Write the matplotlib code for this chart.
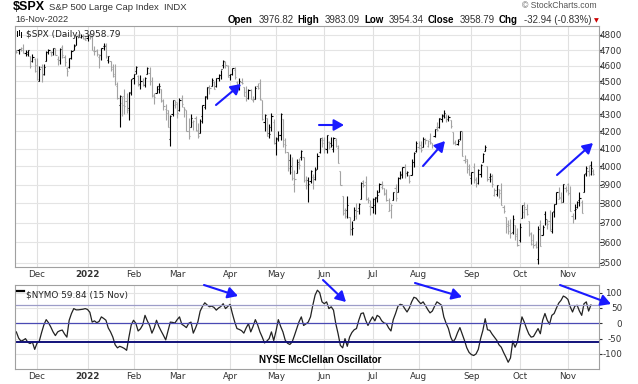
import matplotlib
matplotlib.use("Agg")
import matplotlib.pyplot as plt
import numpy as np
import pandas as pd
from matplotlib.lines import Line2D
from matplotlib.patches import FancyArrowPatch

plt.rcParams['font.family'] = ['DejaVu Sans']

W, H = 638, 384

# trading days 17-Nov-2021 .. 16-Nov-2022
holidays = ['2021-11-25', '2021-12-24', '2022-01-17', '2022-02-21', '2022-04-15',
            '2022-05-30', '2022-06-20', '2022-07-04', '2022-09-05']
dates = pd.bdate_range('2021-11-17', '2022-11-16')
dates = dates[~dates.isin(pd.to_datetime(holidays))]

opens = [
    4701, 4700, 4708, 4712, 4679, 4675, 4664, 4628, 4640,
    4602, 4505, 4589, 4548, 4632, 4691, 4691, 4687, 4711, 4643, 4637, 4719, 4653, 4587, 4594, 4650, 4703, 4733, 4795, 4788, 4795, 4775,
    4779, 4804, 4787, 4693, 4698, 4656, 4670, 4728, 4733, 4637, 4632, 4589, 4548, 4471, 4357, 4366, 4409, 4380, 4337, 4431,
    4519, 4566, 4535, 4483, 4505, 4480, 4548, 4553, 4506, 4413, 4429, 4455, 4456, 4385, 4332, 4324, 4155, 4299, 4354,
    4364, 4323, 4401, 4342, 4327, 4203, 4224, 4253, 4279, 4202, 4189, 4289, 4345, 4407, 4462, 4469, 4494, 4470, 4522, 4541, 4603, 4624, 4599,
    4540, 4547, 4573, 4495, 4474, 4494, 4463, 4437, 4398, 4449, 4386, 4390, 4473, 4490, 4385, 4256, 4279, 4187, 4223, 4254,
    4130, 4159, 4181, 4270, 4129, 4081, 4035, 3971, 3904, 3964, 4013, 4053, 4052, 3900, 3928, 3919, 3942, 3929, 3985, 4078, 4151,
    4150, 4096, 4137, 4134, 4097, 4147, 4101, 3974, 3838, 3763, 3765, 3729, 3665, 3716, 3733, 3774, 3821, 3920, 3913, 3825, 3785,
    3782, 3792, 3831, 3858, 3888, 3880, 3851, 3762, 3763, 3818, 3884, 3861, 3935, 3955, 3998, 3965, 3954, 3951, 4027, 4087,
    4112, 4105, 4108, 4155, 4116, 4156, 4134, 4171, 4227, 4225, 4269, 4290, 4281, 4274, 4267, 4195, 4134, 4126, 4153, 4199, 4034, 4041, 4000,
    3937, 3995, 3930, 3910, 3959, 4022, 4084, 4000, 3940, 3932, 3846, 3849, 3876, 3871, 3782, 3727, 3682, 3686, 3651, 3687, 3633,
    3610, 3726, 3753, 3771, 3706, 3647, 3594, 3590, 3520, 3690, 3638, 3746, 3697, 3707, 3657, 3762, 3799, 3825, 3834, 3808, 3881,
    3901, 3853, 3734, 3767, 3781, 3817, 3810, 3860, 3964, 3977, 4006, 3976.82]
highs = [
    4701, 4708, 4718, 4743, 4701, 4702, 4665, 4673, 4646,
    4652, 4595, 4608, 4613, 4694, 4705, 4695, 4713, 4711, 4660, 4712, 4732, 4667, 4594, 4651, 4698, 4741, 4791, 4808, 4804, 4808, 4787,
    4797, 4819, 4797, 4725, 4708, 4673, 4714, 4749, 4744, 4665, 4632, 4612, 4611, 4495, 4418, 4411, 4453, 4428, 4432, 4516,
    4550, 4595, 4543, 4540, 4522, 4531, 4590, 4589, 4527, 4426, 4472, 4490, 4456, 4395, 4362, 4324, 4294, 4386, 4385,
    4375, 4401, 4416, 4342, 4327, 4276, 4299, 4268, 4292, 4247, 4272, 4358, 4412, 4466, 4481, 4522, 4501, 4520, 4546, 4575, 4637, 4627, 4604,
    4548, 4583, 4593, 4504, 4522, 4521, 4463, 4471, 4453, 4453, 4410, 4471, 4489, 4513, 4385, 4300, 4279, 4240, 4309, 4270,
    4169, 4200, 4308, 4270, 4158, 4081, 4069, 4050, 3981, 4039, 4047, 4090, 4052, 3945, 3944, 3982, 3956, 3999, 4076, 4158, 4169,
    4166, 4177, 4143, 4168, 4164, 4160, 4120, 3974, 3839, 3778, 3838, 3729, 3707, 3779, 3801, 3802, 3913, 3928, 3946, 3836, 3819,
    3826, 3832, 3870, 3910, 3919, 3880, 3874, 3829, 3796, 3863, 3903, 3939, 3975, 3999, 4013, 3975, 3954, 4040, 4079, 4141,
    4145, 4141, 4167, 4162, 4151, 4187, 4134, 4211, 4257, 4280, 4301, 4325, 4302, 4293, 4267, 4195, 4149, 4157, 4200, 4204, 4062, 4044, 4016,
    3970, 4019, 3942, 3987, 4011, 4076, 4119, 4000, 3961, 3960, 3880, 3900, 3877, 3907, 3790, 3727, 3715, 3717, 3737, 3687, 3672,
    3698, 3791, 3807, 3797, 3708, 3653, 3641, 3608, 3685, 3713, 3689, 3762, 3718, 3764, 3757, 3799, 3863, 3887, 3859, 3905, 3893,
    3911, 3894, 3751, 3796, 3814, 3859, 3818, 3958, 4002, 4008, 4028, 3983.09]
lows = [
    4684, 4672, 4692, 4682, 4662, 4660, 4585, 4625, 4560,
    4510, 4504, 4496, 4541, 4632, 4675, 4665, 4670, 4666, 4606, 4612, 4651, 4598, 4532, 4584, 4645, 4703, 4733, 4781, 4778, 4775, 4766,
    4758, 4775, 4699, 4671, 4663, 4582, 4638, 4701, 4650, 4614, 4568, 4531, 4476, 4395, 4222, 4287, 4304, 4309, 4265, 4415,
    4483, 4545, 4471, 4451, 4471, 4466, 4548, 4477, 4402, 4364, 4429, 4429, 4373, 4327, 4268, 4222, 4114, 4288, 4336,
    4279, 4322, 4346, 4285, 4199, 4157, 4224, 4210, 4203, 4162, 4187, 4251, 4329, 4390, 4424, 4469, 4455, 4465, 4501, 4517, 4582, 4588, 4530,
    4507, 4539, 4515, 4452, 4450, 4485, 4408, 4382, 4393, 4392, 4371, 4390, 4452, 4385, 4268, 4201, 4175, 4163, 4200, 4129,
    4062, 4145, 4152, 4107, 4077, 3975, 3957, 3928, 3858, 3964, 3983, 4033, 3913, 3876, 3810, 3908, 3876, 3926, 3985, 4077, 4110,
    4074, 4074, 4098, 4109, 4080, 4107, 4017, 3900, 3740, 3725, 3723, 3639, 3636, 3716, 3717, 3743, 3821, 3889, 3820, 3800, 3739,
    3752, 3742, 3810, 3858, 3875, 3847, 3812, 3758, 3722, 3818, 3814, 3860, 3929, 3935, 3938, 3946, 3911, 3951, 3994, 4080,
    4097, 4079, 4108, 4128, 4108, 4127, 4102, 4166, 4201, 4219, 4256, 4277, 4253, 4263, 4219, 4129, 4123, 4120, 4147, 4057, 4018, 3965, 3954,
    3904, 3907, 3887, 3906, 3944, 4022, 4084, 3922, 3912, 3889, 3838, 3838, 3827, 3789, 3750, 3648, 3644, 3624, 3641, 3610, 3584,
    3604, 3726, 3722, 3740, 3633, 3588, 3571, 3573, 3492, 3581, 3638, 3686, 3668, 3657, 3647, 3728, 3799, 3825, 3803, 3808, 3863,
    3843, 3758, 3699, 3721, 3776, 3786, 3749, 3860, 3945, 3947, 3954, 3954.34]
closes = [
    4688.67, 4704.54, 4697.96, 4682.94, 4690.70, 4701.46, 4594.62, 4655.27, 4567.00,
    4513.04, 4577.10, 4538.43, 4591.67, 4686.75, 4701.21, 4667.45, 4712.02, 4668.97, 4634.09, 4709.85, 4668.67, 4620.64, 4568.02, 4649.23, 4696.56, 4725.79, 4791.19, 4786.35, 4793.06, 4778.73, 4766.18,
    4796.56, 4793.54, 4700.58, 4696.05, 4677.03, 4670.29, 4713.07, 4726.35, 4659.03, 4662.85, 4577.11, 4532.76, 4482.73, 4397.94, 4410.13, 4356.45, 4349.93, 4326.51, 4431.85, 4515.55,
    4546.54, 4589.38, 4477.44, 4500.53, 4483.87, 4521.54, 4587.18, 4504.08, 4418.64, 4401.67, 4471.07, 4475.01, 4380.26, 4348.87, 4304.76, 4225.50, 4288.70, 4384.65, 4373.94,
    4306.26, 4386.54, 4363.49, 4328.87, 4201.09, 4170.70, 4277.88, 4259.52, 4204.31, 4173.11, 4262.45, 4357.86, 4411.67, 4463.12, 4461.18, 4511.61, 4456.24, 4520.16, 4543.06, 4575.52, 4631.60, 4602.45, 4530.41,
    4545.86, 4582.64, 4525.12, 4481.15, 4500.21, 4488.28, 4412.53, 4397.45, 4446.59, 4392.59, 4391.69, 4462.21, 4459.45, 4393.66, 4271.78, 4296.12, 4175.20, 4183.96, 4287.50, 4131.93,
    4155.38, 4175.48, 4300.17, 4146.87, 4123.34, 3991.24, 4001.05, 3935.18, 3930.08, 4023.89, 4008.01, 4088.85, 3923.68, 3900.79, 3901.36, 3973.75, 3941.48, 3978.73, 4057.84, 4158.24, 4132.15,
    4101.23, 4176.82, 4108.54, 4121.43, 4160.68, 4115.77, 4017.82, 3900.86, 3749.63, 3735.48, 3789.99, 3666.77, 3674.84, 3764.79, 3759.89, 3795.73, 3911.74, 3900.11, 3821.55, 3818.83, 3785.38,
    3825.33, 3831.39, 3845.08, 3902.62, 3899.38, 3854.43, 3818.80, 3801.78, 3790.38, 3863.16, 3830.85, 3936.69, 3959.90, 3998.95, 3961.63, 3966.84, 3921.05, 4023.61, 4072.43, 4130.29,
    4118.63, 4091.19, 4155.17, 4151.94, 4145.19, 4140.06, 4122.47, 4210.24, 4207.27, 4280.15, 4297.14, 4305.20, 4274.04, 4283.74, 4228.48, 4137.99, 4128.73, 4140.77, 4199.12, 4057.66, 4030.61, 3986.16, 3955.00,
    3966.85, 3924.26, 3908.19, 3979.87, 4006.18, 4067.36, 4110.41, 3932.69, 3946.01, 3901.35, 3873.33, 3899.89, 3855.93, 3789.93, 3757.99, 3693.23, 3655.04, 3647.29, 3719.04, 3640.47, 3585.62,
    3678.43, 3790.93, 3783.28, 3744.52, 3639.66, 3612.39, 3588.84, 3577.03, 3669.91, 3583.07, 3677.95, 3719.98, 3695.16, 3665.78, 3752.75, 3797.34, 3859.11, 3830.60, 3807.30, 3901.06, 3871.98,
    3856.10, 3759.69, 3719.89, 3770.55, 3806.80, 3828.11, 3748.57, 3956.37, 3992.93, 3957.25, 3991.73, 3958.79]

# NYSE McClellan Oscillator, 17-Nov-2021 .. 15-Nov-2022
nymo = [
    -28, -48, -58, -55, -50, -62, -66, -61, -85, -65,
    -58, -30, -5, 12, 2, -12, -28, -40, -28, -24,
    -22, -35, -45, 10, 32, 48, 44, 44, 45, 46,
    48, 45, 36, 4, 8, 2, 6, 21, 16, 10,
    -15, -28, -45, -70, -80, -75, -78, -82, -88, -45,
    -5, 10, 0, -25, -18, -5, 26, 8, -7, -32,
    -15, 10, -10, -25, -39, -54, -25, 4, 3, 1,
    12, 21, -3, -8, -14, 0, 4, -32, -15, 5,
    40, 55, 67, 60, 54, 56, 52, 43, 50, 55,
    64, 48, 55, 62, 32, 5, -17, -20, -24, -32,
    -15, -1, -28, -10, 12, -5, -28, -45, -64, -58,
    -50, -28, -56, -25, 12, -10, -28, -55, -65, -69,
    -61, -40, -17, 5, 21, -7, -2, 4, 21, 59,
    92, 108, 100, 70, 64, 70, 48, 54, 43, -1,
    -34, -72, -80, -50, -75, -45, -30, -21, -17, 10,
    32, 34, 10, -7, 8, 21, 8, 26, 21, 8,
    1, -1, -15, -25, 12, 32, 55, 62, 60, 48,
    37, 50, 70, 85, 82, 72, 64, 70, 58, 45,
    34, 40, 56, 70, 65, 59, 21, 0, -17, -45,
    -61, -50, -30, -14, -35, -56, -80, -95, -102, -105,
    -100, -85, -50, -23, 15, -21, -23, -35, -45, -55,
    -70, -78, -95, -110, -127, -113, -58, -78, -61, -20,
    21, 4, -17, -35, -45, -43, -30, -17, -34, 10,
    32, 10, -3, 26, 32, 50, 66, 75, 89, 85,
    78, 54, 37, 56, 59, 40, 26, 64, 70, 40,
    59.84]

main_ticks = [3500, 3600, 3700, 3800, 3900, 4000, 4100, 4200, 4300, 4400, 4500, 4600, 4700, 4800]
nymo_ticks = [100, 50, 0, -50, -100]
month_names = ['Dec', '2022', 'Feb', 'Mar', 'Apr', 'May', 'Jun', 'Jul', 'Aug', 'Sep', 'Oct', 'Nov']

o = np.array(opens, float)
h = np.array(highs, float)
l = np.array(lows, float)
c = np.array(closes, float)
x = np.arange(len(c))
prev = np.r_[o[0], c[:-1]]
cols = np.where(c >= prev, 'black', '#a3a3a3')

per = pd.Series(dates.to_period('M'))
first_idx = per.index[per != per.shift()].tolist()[1:]

fig = plt.figure(figsize=(W / 100, H / 100), dpi=100)
fig.patch.set_facecolor('white')


def box(x0, y0, x1, y1):
    return [x0 / W, 1 - y1 / H, (x1 - x0) / W, (y1 - y0) / H]


ax = fig.add_axes(box(15, 26, 598.5, 266.7))
ax2 = fig.add_axes(box(15, 285, 598.5, 369))

xl = (-0.57, 253.3)

# price panel
ax.set_yscale('log')
ax.vlines(x, l, h, colors=cols, lw=0.8)
ax.hlines(o, x - 0.5, x, colors=cols, lw=0.8)
ax.hlines(c, x, x + 0.5, colors=cols, lw=0.8)
ax.set_xlim(*xl)
ax.set_ylim(3480.6, 4860)
ax.yaxis.tick_right()
ax.set_yticks(main_ticks)
ax.set_yticklabels([str(t) for t in main_ticks])
ax.yaxis.set_minor_locator(plt.NullLocator())
ax.grid(axis='y', color='#e4e4e4', lw=0.8)

# NYMO panel
ax2.plot(np.arange(len(nymo)), nymo, color='#222222', lw=0.9)
ax2.axhline(60, color='#9c9cc8', lw=0.9)
ax2.axhline(0, color='#4a4ab4', lw=0.9)
ax2.axhline(-60, color='#12127a', lw=1.4)
ax2.set_xlim(*xl)
ax2.set_ylim(-149, 125)
ax2.yaxis.tick_right()
ax2.set_yticks(nymo_ticks)
ax2.set_yticklabels([str(t) for t in nymo_ticks])
ax2.grid(axis='y', color='#e4e4e4', lw=0.8)

for a in (ax, ax2):
    a.set_axisbelow(True)
    a.set_xticks(first_idx)
    a.set_xticklabels(month_names)
    a.grid(axis='x', color='#e0e0e0', lw=0.8)
    a.tick_params(axis='x', length=0, pad=2.5, labelsize=6.3, colors='#333333')
    a.tick_params(axis='y', length=2, pad=15, labelsize=6.3, colors='#333333')
    for lab in a.get_yticklabels():
        lab.set_horizontalalignment('right')
    for lab in a.get_xticklabels():
        if lab.get_text() == '2022':
            lab.set_fontweight('bold')
    for s in a.spines.values():
        s.set_color('#a0a0a0')
        s.set_linewidth(0.8)


def fx(px):
    return px / W


def fy(py):
    return 1 - py / H


# header
fig.text(fx(13), fy(7), '$SPX', fontsize=9, fontweight='bold', family='Liberation Sans', va='center')
fig.text(fx(49), fy(7.5), 'S&P 500 Large Cap Index  INDX', fontsize=6.8, family='Liberation Sans',
         va='center', color='#333333')
fig.text(fx(15), fy(20), '16-Nov-2022', fontsize=6.6, family='Liberation Sans', va='center', color='#333333')
fig.text(fx(597), fy(6), '\u00a9 StockCharts.com', fontsize=6.2, family='Liberation Sans', va='center',
         ha='right', color='#555555')

pieces = [('Open', 'bold'), ('3976.82', 'normal'), ('High', 'bold'), ('3983.09', 'normal'),
          ('Low', 'bold'), ('3954.34', 'normal'), ('Close', 'bold'), ('3958.79', 'normal'),
          ('Chg', 'bold'), ('-32.94 (-0.83%)', 'normal')]
r = fig.canvas.get_renderer()
xr = 591
for txt, wt in reversed(pieces):
    t = fig.text(fx(xr), fy(20), txt, fontsize=7, fontweight=wt, family='Liberation Sans',
                 va='center', ha='right', color='black' if wt == 'bold' else '#333333')
    wdt = t.get_window_extent(r).width
    xr -= wdt + (4 if wt == 'bold' else 5.5)
fig.text(fx(596), fy(20.5), '\u25bc', fontsize=4.5, color='#cc0000', ha='center', va='center')

# panel legends
for xs, y0, y1 in [(17, 31, 36), (19, 30, 35), (21, 32, 37)]:
    fig.add_artist(Line2D([fx(xs), fx(xs)], [fy(y0), fy(y1)], color='black', lw=0.7))
ax.text(0.018, 0.983, '$SPX (Daily) 3958.79', transform=ax.transAxes, fontsize=6.4,
        va='top', ha='left', color='#222222')
fig.add_artist(Line2D([fx(17), fx(24)], [fy(291), fy(291)], color='black', lw=1.6))
ax2.text(0.018, 0.94, '$NYMO 59.84 (15 Nov)', transform=ax2.transAxes, fontsize=6.4,
         va='top', ha='left', color='#222222')
fig.text(fx(320), fy(360), 'NYSE McClellan Oscillator', fontsize=7, fontweight='bold',
         family='Liberation Sans', ha='center', va='center')

# annotation arrows
arrows = [((216, 105), (241, 84)), ((319, 125), (344, 125)), ((423, 166), (445, 141)),
          ((557, 175), (593, 143)), ((204, 285), (238, 296)), ((323, 280), (346, 302)),
          ((415, 283), (462, 297)), ((560, 285), (611, 304))]
for (x0, y0), (x1, y1) in arrows:
    fig.add_artist(FancyArrowPatch(
        (fx(x0), fy(y0)), (fx(x1), fy(y1)), transform=fig.transFigure,
        arrowstyle='-|>,head_length=6,head_width=3.4', color='#1a1aff', lw=1.5,
        shrinkA=0, shrinkB=0))

fig.savefig('out.png', dpi=100)
